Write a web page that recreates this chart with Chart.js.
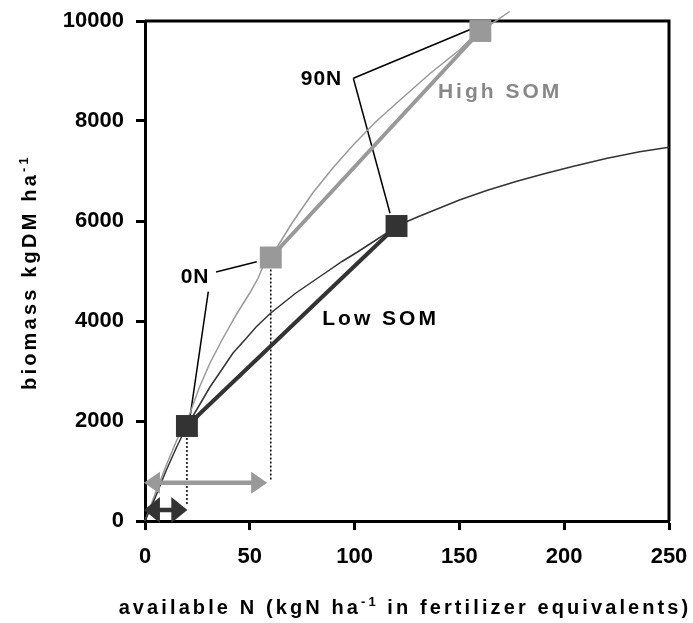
<!DOCTYPE html>
<html><head><meta charset="utf-8">
<script src="https://cdn.jsdelivr.net/npm/chart.js@4"></script>
<style>html,body{margin:0;padding:0;background:#fff;}canvas{display:block}</style>
</head><body>
<canvas id="c" width="693" height="623"></canvas>
<script>
const FONT = "'Liberation Sans', Arial, sans-serif";
const DARK = '#333333';
const LIGHT = '#999999';

// axes
const xTicks = [0, 50, 100, 150, 200, 250];
const yTicks = [0, 2000, 4000, 6000, 8000, 10000];

// simulated response curves (thin)
const lowCurveX = [0,5,10,15,20,25,31,37,42,48,53,60,66,72,80,87,94,101,108,115,120,130,140,150,163,177,190,204,220,236,250,257];
const lowCurveY = [0,480,1000,1470,1900,2250,2680,3050,3360,3640,3880,4160,4360,4560,4790,4990,5190,5370,5560,5750,5900,6080,6250,6420,6610,6790,6940,7090,7250,7385,7475,7540];
const highCurveX = [0,5,10,15,21.5,26,31,37,44,50,54,57,60,70,80,90,100,110,121.7,136,150,158,168,174];
const highCurveY = [0,560,1100,1600,2160,2680,3160,3640,4160,4560,4860,5160,5270,5950,6560,7080,7550,7980,8420,8950,9420,9750,10020,10190];

// 0N and 90N points (squares + thick lines)
const lowPointsX = [20, 120];
const lowPointsY = [1900, 5900];
const highPointsX = [60, 160];
const highPointsY = [5270, 9800];

// text annotations
const annoText = ['0N', '90N', 'Low SOM', 'High SOM'];
const annoX = [23.9, 84.2, 112.4, 169.4];
const annoY = [4880, 8830, 4030, 8580];
const annoColor = ['#000', '#000', '#000', '#888'];

// leader lines
const leaderFromX = [33.9, 30.2, 99.4, 99.4];
const leaderFromY = [4980, 4586, 8854, 8854];
const leaderToX = [53.3, 21.5, 156.6, 116.9];
const leaderToY = [5186, 2086, 9854, 6154];

// dotted drop lines
const dropX = [20, 60];
const dropTop = [1900, 5270];
const dropBottom = [320, 820];

// double arrows (available N)
const arrowFrom = [-0.5, -0.5];
const arrowTo = [58.3, 20.2];
const arrowY = [766, 220];
const arrowColor = [LIGHT, DARK];

const xy = (xs, ys) => xs.map((x, i) => ({x, y: ys[i]}));

const datasets = [
  {data: xy(lowPointsX, lowPointsY), showLine: false, pointStyle: 'rect', pointRadius: 15.5,
   pointBackgroundColor: DARK, pointBorderColor: DARK, pointBorderWidth: 0},
  {data: xy(highPointsX, highPointsY), showLine: false, pointStyle: 'rect', pointRadius: 15.5,
   pointBackgroundColor: LIGHT, pointBorderColor: LIGHT, pointBorderWidth: 0},
  {data: xy(lowPointsX, lowPointsY), borderColor: DARK, borderWidth: 4, pointRadius: 0},
  {data: xy(highPointsX, highPointsY), borderColor: LIGHT, borderWidth: 4, pointRadius: 0},
  {data: xy(lowCurveX, lowCurveY), borderColor: DARK, borderWidth: 1.5, pointRadius: 0},
  {data: xy(highCurveX, highCurveY), borderColor: LIGHT, borderWidth: 1.5, pointRadius: 0},
];
leaderFromX.forEach((_, i) => datasets.push({
  data: [{x: leaderFromX[i], y: leaderFromY[i]}, {x: leaderToX[i], y: leaderToY[i]}],
  borderColor: '#000', borderWidth: 1.5, pointRadius: 0}));
dropX.forEach((_, i) => datasets.push({
  data: [{x: dropX[i], y: dropTop[i]}, {x: dropX[i], y: dropBottom[i]}],
  borderColor: '#000', borderWidth: 1.5, borderDash: [2, 2], pointRadius: 0}));
datasets.forEach(d => { d.clip = false; d.tension = 0; d.fill = false; });

function drawRich(ctx, segs, cx, baseY, spacing) {
  ctx.save();
  ctx.textAlign = 'left';
  ctx.textBaseline = 'alphabetic';
  if ('letterSpacing' in ctx) ctx.letterSpacing = spacing + 'px';
  let total = 0;
  const ws = segs.map(s => {
    ctx.font = `bold ${s.size}px ${FONT}`;
    const w = ctx.measureText(s.t).width; total += w; return w;
  });
  let x = cx - total / 2;
  segs.forEach((s, i) => {
    ctx.font = `bold ${s.size}px ${FONT}`;
    ctx.fillText(s.t, x, baseY + s.dy);
    x += ws[i];
  });
  ctx.restore();
}

const noPad = s => { s.paddingLeft = 0; s.paddingRight = 0; s.paddingTop = 0; s.paddingBottom = 0; };

const decor = {
  id: 'decor',
  beforeDatasetsDraw(chart) {
    const {ctx, chartArea: a} = chart;
    ctx.save();
    ctx.strokeStyle = '#000';
    ctx.lineWidth = 3;
    ctx.beginPath();
    ctx.moveTo(a.left, a.top);
    ctx.lineTo(a.right, a.top);
    ctx.lineTo(a.right, a.bottom);
    ctx.stroke();
    ctx.restore();
  },
  afterDatasetsDraw(chart) {
    const {ctx, scales: {x, y}} = chart;
    arrowFrom.forEach((_, i) => {
      const x1 = x.getPixelForValue(arrowFrom[i]);
      const x2 = x.getPixelForValue(arrowTo[i]);
      const py = y.getPixelForValue(arrowY[i]);
      const hl = 16, hw = i === 0 ? 11 : 13;
      ctx.save();
      ctx.fillStyle = arrowColor[i];
      ctx.strokeStyle = arrowColor[i];
      ctx.lineWidth = 4.5;
      ctx.beginPath();
      ctx.moveTo(x1 + hl - 1, py); ctx.lineTo(x2 - hl + 1, py); ctx.stroke();
      ctx.beginPath();
      ctx.moveTo(x1, py); ctx.lineTo(x1 + hl, py - hw); ctx.lineTo(x1 + hl, py + hw); ctx.closePath();
      ctx.fill();
      ctx.beginPath();
      ctx.moveTo(x2, py); ctx.lineTo(x2 - hl, py - hw); ctx.lineTo(x2 - hl, py + hw); ctx.closePath();
      ctx.fill();
      ctx.restore();
    });
    ctx.save();
    ctx.textAlign = 'center';
    ctx.textBaseline = 'middle';
    annoText.forEach((t, i) => {
      ctx.font = `bold 21px ${FONT}`;
      ctx.fillStyle = annoColor[i];
      if ('letterSpacing' in ctx) ctx.letterSpacing = (i >= 2 ? 3 : 1) + 'px';
      ctx.fillText(t, x.getPixelForValue(annoX[i]), y.getPixelForValue(annoY[i]));
    });
    ctx.restore();
  },
  afterDraw(chart) {
    const {ctx} = chart;
    ctx.save();
    ctx.fillStyle = '#000';
    drawRich(ctx, [
      {t: 'available N (kgN ha', size: 20, dy: 0},
      {t: '-1', size: 13, dy: -8},
      {t: ' in fertilizer equivalents)', size: 20, dy: 0}
    ], 405, 614, 3.1);
    ctx.translate(36, 272);
    ctx.rotate(-Math.PI / 2);
    drawRich(ctx, [
      {t: 'biomass kgDM ha', size: 20, dy: 0},
      {t: '-1', size: 13, dy: -8}
    ], 0, 0, 3.2);
    ctx.restore();
  }
};

new Chart(document.getElementById('c'), {
  type: 'line',
  data: {datasets},
  plugins: [decor],
  options: {
    responsive: false,
    animation: false,
    events: [],
    layout: {padding: {top: 21, right: 24, left: 0, bottom: 0}},
    plugins: {legend: {display: false}, tooltip: {enabled: false}},
    scales: {
      x: {
        type: 'linear', min: 0, max: 250,
        afterBuildTicks: s => { s.ticks = xTicks.map(v => ({value: v})); },
        afterFit: s => { s.height = 102; noPad(s); },
        grid: {drawOnChartArea: false, tickLength: 9, tickWidth: 3, tickColor: '#000'},
        border: {display: true, color: '#000', width: 3},
        ticks: {color: '#000', font: {family: FONT, size: 22, weight: 'bold'}, padding: 14, maxRotation: 0,
                callback: v => String(v)}
      },
      y: {
        type: 'linear', min: 0, max: 10000,
        afterBuildTicks: s => { s.ticks = yTicks.map(v => ({value: v})); },
        afterFit: s => { s.width = 145; noPad(s); },
        grid: {drawOnChartArea: false, tickLength: 9, tickWidth: 3, tickColor: '#000'},
        border: {display: true, color: '#000', width: 3},
        ticks: {color: '#000', font: {family: FONT, size: 22, weight: 'bold'}, padding: 12,
                callback: v => String(v)}
      }
    }
  }
});
</script>
</body></html>
